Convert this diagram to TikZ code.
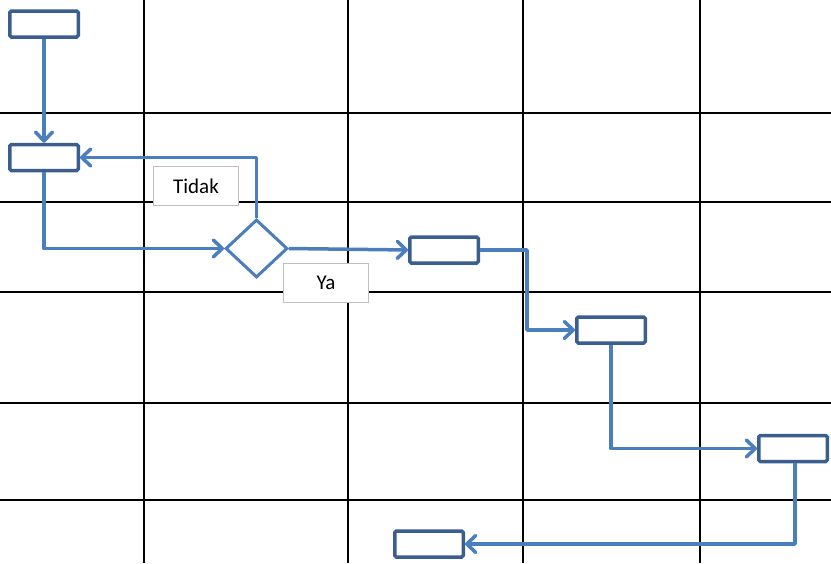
\documentclass[tikz,border=0pt]{standalone}
\usepackage{fontspec}
\setmainfont{Carlito}
\usetikzlibrary{arrows.meta,shapes.geometric}
\definecolor{boxline}{HTML}{3A5F8F}
\definecolor{flowline}{HTML}{4A7EBD}
\definecolor{tagline}{HTML}{BFBFBF}
\tikzset{
  gridline/.style={line width=2pt,black},
  stepbox/.style={draw=boxline,line width=3.5pt,fill=white,rounded corners=1.5pt,
    minimum width=68.5pt,minimum height=26pt,inner sep=0pt},
  decision/.style={draw=flowline,line width=3pt,fill=white,shape=diamond,
    minimum width=62pt,minimum height=58pt,inner sep=0pt},
  tag/.style={draw=tagline,line width=1.5pt,fill=white,minimum width=85pt,
    minimum height=39pt,inner sep=0pt,font=\fontsize{21}{24}\selectfont},
  flow/.style={draw=flowline,line width=3.5pt,line join=round},
  flowarrow/.style={flow,-{Straight Barb[length=9pt,width=17pt,line width=3.5pt,round]}}
}
\begin{document}
\begin{tikzpicture}[x=1pt,y=-1pt]
  \useasboundingbox (0,0) rectangle (831,563);
  % table grid
  \foreach \gx in {144,348,523,700}
    \draw[gridline] (\gx,0) -- (\gx,563);
  \foreach \gy in {113,202,292,403,500}
    \draw[gridline] (0,\gy) -- (831,\gy);

  % branch labels
  \node[tag] (tidak) at (196,186) {Tidak};
  \node[tag] (ya) at (326,283) {Ya};

  % process steps and decision
  \node[stepbox] (b1) at (44,24) {};
  \node[stepbox] (b2) at (44,157.5) {};
  \node[decision] (dia) at (256.5,248.5) {};
  \node[stepbox] (b3) at (444,250) {};
  \node[stepbox] (b4) at (611,330) {};
  \node[stepbox] (b5) at (793,448.5) {};
  \node[stepbox] (b6) at (429,544) {};

  % connectors
  \draw[flowarrow] (b1.south) -- (b2.north);
  \draw[flowarrow] (b2.south) |- (dia.west);
  \draw[flowarrow] (dia.north) |- (b2.east);
  \draw[flowarrow] (dia.east) -- (b3.west);
  \draw[flowarrow] (b3.east) -- ++(47,0) |- (b4.west);
  \draw[flowarrow] (b4.south) |- (b5.west);
  \draw[flowarrow] ([xshift=2pt]b5.south) |- (b6.east);
\end{tikzpicture}
\end{document}
